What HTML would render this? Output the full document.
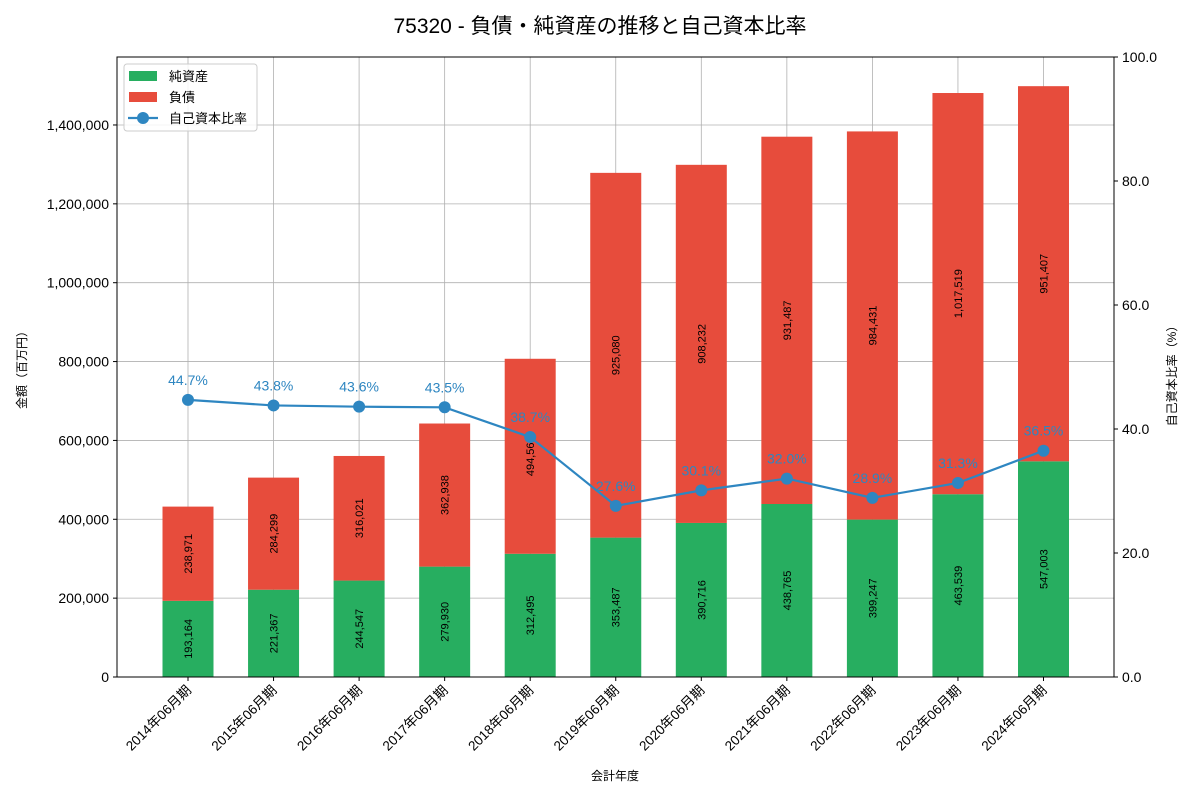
<!DOCTYPE html>
<html><head><meta charset="utf-8"><style>
body{margin:0;background:#fff;}
svg text{font-family:"Liberation Sans","Noto Sans CJK JP",sans-serif;}
</style></head><body>
<svg id="chart" width="1200" height="800" xmlns="http://www.w3.org/2000/svg">
<text x="600" y="33" text-anchor="middle" font-size="21" fill="#000">75320 - 負債・純資産の推移と自己資本比率</text>
<g id="grid"></g><g id="bars"></g><g id="line"></g><g id="axes"></g>
</svg>
<script>
const categories=["2014年06月期","2015年06月期","2016年06月期","2017年06月期","2018年06月期","2019年06月期","2020年06月期","2021年06月期","2022年06月期","2023年06月期","2024年06月期"];
const netAssets=[193164,221367,244547,279930,312495,353487,390716,438765,399247,463539,547003];
const liabilities=[238971,284299,316021,362938,494561,925080,908232,931487,984431,1017519,951407];
const ratio=[44.7,43.8,43.6,43.5,38.7,27.6,30.1,32.0,28.9,31.3,36.5];
const yTicks=[0,200000,400000,600000,800000,1000000,1200000,1400000];
const y2Ticks=[0,20,40,60,80,100];
const L=117,R=1114,T=57,B=677;
const yMax=1572400;
const NS="http://www.w3.org/2000/svg";
const svg=document.getElementById('chart');
function x(i){return 188+i*85.55;}
function y(v){return B-v/yMax*(B-T);}
function y2(v){return B-v/100*(B-T);}
function fmt(v){return v.toLocaleString('en-US');}
function mk(tag,attrs,parent,text){const e=document.createElementNS(NS,tag);for(const k in attrs)e.setAttribute(k,attrs[k]);if(text!==undefined)e.textContent=text;document.getElementById(parent).appendChild(e);return e;}
// grid
yTicks.forEach(v=>{const l=mk('line',{x1:L,x2:R,y1:y(v),y2:y(v),stroke:'#b0b0b0','stroke-width':0.8},'grid');

});
categories.forEach((c,i)=>{const l=mk('line',{x1:x(i),x2:x(i),y1:T,y2:B,stroke:'#b0b0b0','stroke-width':0.8},'grid');

});
// bars
const bw=51;
categories.forEach((c,i)=>{
 const g1=mk('rect',{x:x(i)-bw/2,y:y(netAssets[i]),width:bw,height:B-y(netAssets[i]),fill:'#27ae60'},'bars');
 
 
 const top=netAssets[i]+liabilities[i];
 const g2=mk('rect',{x:x(i)-bw/2,y:y(top),width:bw,height:y(netAssets[i])-y(top),fill:'#e74c3c'},'bars');
 
 
 const ym1=y(netAssets[i]/2), ym2=y(netAssets[i]+liabilities[i]/2);
 const t1=mk('text',{x:x(i)+4,y:ym1,'font-size':11,'text-anchor':'middle',transform:`rotate(-90 ${x(i)+4} ${ym1})`},'bars',fmt(netAssets[i]));
 
 
 const t2=mk('text',{x:x(i)+4,y:ym2,'font-size':11,'text-anchor':'middle',transform:`rotate(-90 ${x(i)+4} ${ym2})`},'bars',fmt(liabilities[i]));
 
 
});
// line
const pl=mk('polyline',{points:ratio.map((v,i)=>x(i)+','+y2(v)).join(' '),fill:'none',stroke:'#2e86c1','stroke-width':2.2},'line');


ratio.forEach((v,i)=>{
 const c=mk('circle',{cx:x(i),cy:y2(v),r:6,fill:'#2e86c1'},'line');
 
 
 const t=mk('text',{x:x(i),y:y2(v)-15,'font-size':14,'text-anchor':'middle',fill:'#2e86c1'},'line',v.toFixed(1)+'%');
 
 
});
// axes
const fr=mk('rect',{x:L,y:T,width:R-L,height:B-T,fill:'none',stroke:'#000','stroke-width':1},'axes');


yTicks.forEach(v=>{mk('line',{x1:L-4,x2:L,y1:y(v),y2:y(v),stroke:'#000'},'axes');
 const t=mk('text',{x:L-8,y:y(v)+5,'font-size':14,'text-anchor':'end'},'axes',fmt(v));
 
 });
y2Ticks.forEach(v=>{mk('line',{x1:R,x2:R+4,y1:y2(v),y2:y2(v),stroke:'#000'},'axes');
 const t=mk('text',{x:R+8,y:y2(v)+5,'font-size':14},'axes',v.toFixed(1));
 
 });
categories.forEach((c,i)=>{mk('line',{x1:x(i),x2:x(i),y1:B,y2:B+4,stroke:'#000'},'axes');
 const t=mk('text',{x:x(i)+4,y:B+14,'font-size':13.5,'text-anchor':'end',transform:`rotate(-45 ${x(i)+4} ${B+14})`},'axes',c);
 
 });
let t=mk('text',{x:615,y:780,'font-size':12,'text-anchor':'middle'},'axes','会計年度');


t=mk('text',{x:26,y:367,'font-size':12,'text-anchor':'middle',transform:'rotate(-90 26 367)'},'axes','金額（百万円）');


t=mk('text',{x:1176,y:373,'font-size':12,'text-anchor':'middle',transform:'rotate(-90 1176 373)'},'axes','自己資本比率（%）');


// legend
const lg=mk('rect',{x:124,y:64,width:133,height:67,fill:'#fff','fill-opacity':0.85,stroke:'#ccc',rx:3},'axes');


mk('rect',{x:129,y:71,width:28,height:10,fill:'#27ae60'},'axes');
mk('rect',{x:129,y:92,width:28,height:10,fill:'#e74c3c'},'axes');
mk('line',{x1:128,x2:158,y1:118,y2:118,stroke:'#2e86c1','stroke-width':2.2},'axes');
mk('circle',{cx:143,cy:118,r:6,fill:'#2e86c1'},'axes');
[['純資産',81],['負債',102],['自己資本比率',123]].forEach(([s,yy])=>{const e=mk('text',{x:169,y:yy,'font-size':13},'axes',s);
 
 });
</script>
</body></html>
